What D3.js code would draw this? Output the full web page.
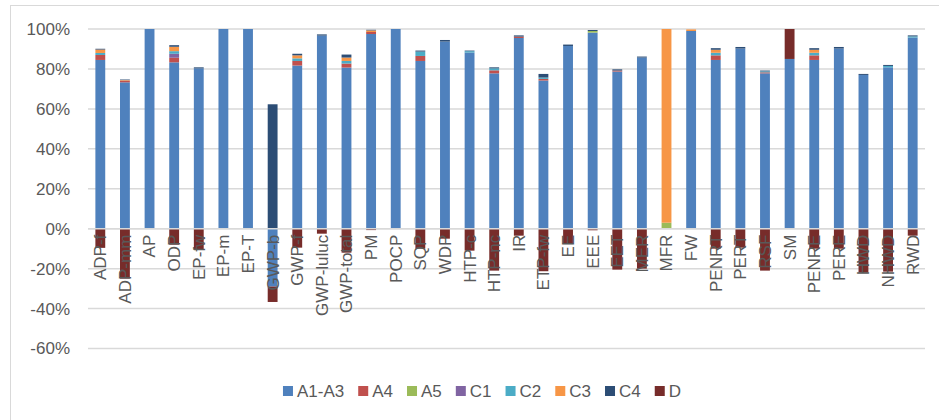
<!DOCTYPE html>
<html>
<head>
<meta charset="utf-8">
<script src="https://cdn.jsdelivr.net/npm/d3@7/dist/d3.min.js"></script>
<style>
  html, body { margin: 0; padding: 0; background: #fff; }
  svg text { font-family: "Liberation Sans", Arial, sans-serif; fill: #595959; }
</style>
</head>
<body>
<svg id="chart" width="939" height="420"></svg>
<script>
const categories = ["ADP-f","ADP-mm","AP","ODP","EP-fw","EP-m","EP-T","GWP-b","GWP-f","GWP-luluc","GWP-total","PM","POCP","SQP","WDP","HTP-c","HTP-nc","IR","ETP-fw","EE","EEE","EET","MER","MFR","FW","PENRT","PERT","RSF","SM","PENRE","PERE","HWD","NHWD","RWD"];
const seriesNames = ["A1-A3","A4","A5","C1","C2","C3","C4","D"];
const seriesColors = ["#4F81BD","#C0504D","#9BBB59","#8064A2","#4BACC6","#F79646","#2C4D75","#772C2A"];

const A1A3 = [84.5,73.3,100,83.3,80.3,100,100,-29,81.7,96.7,80.7,97.5,100,84,93.7,88.2,77.8,95.5,74.2,91.5,98.2,78.7,85.7,0,99,84.5,90.2,77.8,85,84.5,90.2,77,80.8,95.7];
const A4   = [2.5,0.8,0,2.3,0,0,0,0,2.3,0,2,1,0,2.5,0,0,1.5,0.7,0.8,0,0,0.5,0,0,0,2.3,0,0.5,0,2.3,0,0,0,0];
const A5   = [0,0,0,0,0,0,0,0.3,0,0,0,0,0,0,0,0,0,0,0,0,0.8,0,0,3,0,0,0,0,0,0,0,0,0,0];
const C1   = [0,0,0,2,0,0,0,0,0,0,0,0,0,0,0,0,0,0,0,0,0,0,0,0,0,0,0,0,0,0,0,0,0,0];
const C2   = [1,0,0,1.3,0,0,0,0,1.3,0,1.3,0,0,2.2,0,0.7,1,0,0.7,0,0,0,0,0,0,1.3,0,0.5,0,1.3,0,0,0.7,0.6];
const C3   = [1.7,0.3,0,2.2,0,0,0,0,1.5,0,1.7,0.8,0,0,0,0,0,0,0,0,0,0,0,97,0.8,1.5,0,0,0,1.5,0,0,0,0];
const C4   = [0.4,0.3,0,0.8,0.5,0,0,62,0.8,0.6,1.5,0.3,0,0.5,0.8,0.3,0.5,0.6,1.8,0.7,0.5,0.6,0.5,0,0,0.8,0.8,0.4,0,0.8,0.8,0.5,0.5,0.5];
const D    = [-9.6,-25,0,-8,-10.5,0,0,-7.7,-9.5,-2.5,-12,-0.7,0,-10,-5,-11,-21,-3.5,-21.3,-7.2,-0.8,-20.5,-20,0,0,-10,-9.5,-21,15,-10,-10,-22,-21.5,-3.5];
const yTicks = [-60,-40,-20,0,20,40,60,80,100];

const seriesValues = [A1A3, A4, A5, C1, C2, C3, C4, D];
const rows = categories.map((c, i) => {
  const r = { cat: c };
  seriesNames.forEach((s, j) => { r[s] = seriesValues[j][i]; });
  return r;
});

const svg = d3.select("#chart");
const plot = { left: 88, right: 925, top: 29, bottom: 348.5 };

// outer chart border
svg.append("rect")
  .attr("x", 10.5).attr("y", 5.5)
  .attr("width", 940).attr("height", 430)
  .attr("fill", "none").attr("stroke", "#d9d9d9").attr("stroke-width", 1);

const x = d3.scaleBand().domain(categories)
  .range([plot.left, plot.right]).paddingInner(0.6).paddingOuter(0.3);
const y = d3.scaleLinear().domain([-60, 100]).range([plot.bottom, plot.top]);

// gridlines
svg.append("g").selectAll("line").data(yTicks).join("line")
  .attr("x1", plot.left).attr("x2", plot.right)
  .attr("y1", d => y(d)).attr("y2", d => y(d))
  .attr("stroke", "#d9d9d9").attr("stroke-width", 1.5);

// y tick labels
const yAxis = d3.axisLeft(y).tickValues(yTicks).tickFormat(d => d + "%").tickSize(0).tickPadding(0);
const gy = svg.append("g").attr("transform", `translate(70,0)`).call(yAxis);
gy.select(".domain").remove();
gy.selectAll("text").attr("font-size", 17).attr("fill", "#595959")
  .attr("font-family", "Liberation Sans, Arial, sans-serif");

// stacked bars
const stack = d3.stack().keys(seriesNames).offset(d3.stackOffsetDiverging);
const stacked = stack(rows);
svg.append("g").selectAll("g").data(stacked).join("g")
  .attr("fill", (d, i) => seriesColors[i])
  .selectAll("rect").data(d => d).join("rect")
  .attr("x", d => x(d.data.cat))
  .attr("width", x.bandwidth())
  .attr("y", d => y(Math.max(d[0], d[1])))
  .attr("height", d => Math.abs(y(d[0]) - y(d[1])));

// zero axis line on top
svg.append("line")
  .attr("x1", plot.left).attr("x2", plot.right)
  .attr("y1", y(0)).attr("y2", y(0))
  .attr("stroke", "#d9d9d9").attr("stroke-width", 1.5);

// x labels (rotated)
const xAxis = d3.axisBottom(x).tickSize(0).tickPadding(0);
const gx = svg.append("g").attr("transform", `translate(0,${y(0)})`).call(xAxis);
gx.select(".domain").remove();
gx.selectAll("text")
  .attr("font-size", 17).attr("fill", "#595959")
  .attr("font-family", "Liberation Sans, Arial, sans-serif")
  .attr("text-anchor", "end")
  .attr("dy", "0.35em")
  .attr("transform", "translate(0,6) rotate(-90)")
  .attr("x", 0).attr("y", 0);

// legend
const legend = svg.append("g");
let lx = 0;
const gap = 14;
const items = legend.selectAll("g").data(seriesNames).join("g");
items.append("rect").attr("width", 10).attr("height", 10).attr("y", -5)
  .attr("fill", (d, i) => seriesColors[i]);
items.append("text").attr("x", 14).attr("dy", "0.35em")
  .attr("font-size", 17).attr("fill", "#595959").text(d => d);
items.each(function() {
  const g = d3.select(this);
  g.attr("transform", `translate(${lx},0)`);
  const tw = g.select("text").node().getComputedTextLength();
  lx += 14 + tw + gap;
});
const total = lx - gap;
legend.attr("transform", `translate(${482 - total / 2},391)`);
</script>
</body>
</html>
